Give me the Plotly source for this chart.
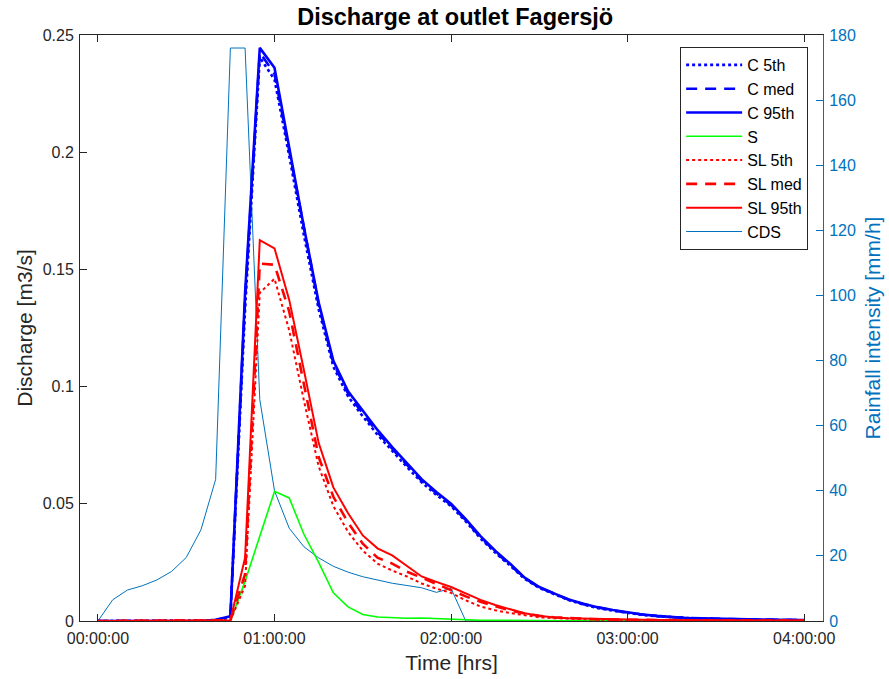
import pandas as pd
import plotly.graph_objects as go

# time steps in minutes (5-minute resolution)
minutes = list(range(0, 245, 5))

rain_cds = [0, 6.5, 9.5, 10.8, 12.6, 15.2, 19.5, 28.0, 43.5, 176.0, 176.0, 68.0, 40.0,
            28.5, 22.8, 19.4, 16.8, 15.0, 13.6, 12.5, 11.6, 10.9, 10.2, 8.8, 10.0, 0,
            0, 0, 0, 0, 0, 0, 0, 0, 0, 0, 0, 0, 0, 0, 0, 0, 0, 0, 0, 0, 0, 0, 0]

c_5th = [0, 0, 0, 0, 0, 0, 0, 0, 0.0003, 0.0015, 0.133, 0.2405, 0.231, 0.1985, 0.1645,
         0.1330, 0.1085, 0.0958, 0.0873, 0.0795, 0.0725, 0.0657, 0.0592, 0.0538, 0.0490,
         0.0425, 0.0352, 0.0292, 0.0237, 0.0180, 0.0141, 0.0114, 0.0089, 0.0070, 0.0055,
         0.0044, 0.0034, 0.0026, 0.0020, 0.0016, 0.0012, 0.0010, 0.0008, 0.0007, 0.0006,
         0.0005, 0.0005, 0.0004, 0.0003]
c_med = [0, 0, 0, 0, 0, 0, 0, 0, 0.0004, 0.0018, 0.137, 0.2425, 0.2335, 0.2005, 0.1665,
         0.1350, 0.1100, 0.0970, 0.0885, 0.0805, 0.0735, 0.0665, 0.0598, 0.0545, 0.0495,
         0.0430, 0.0357, 0.0296, 0.0241, 0.0183, 0.0143, 0.0116, 0.0091, 0.0072, 0.0057,
         0.0045, 0.0035, 0.0027, 0.0021, 0.0016, 0.0013, 0.0010, 0.0009, 0.0008, 0.0007,
         0.0006, 0.0005, 0.0004, 0.0004]
c_95th = [0, 0, 0, 0, 0, 0, 0, 0, 0.0005, 0.0020, 0.140, 0.2445, 0.236, 0.202, 0.168,
          0.136, 0.111, 0.098, 0.0895, 0.0815, 0.0742, 0.0672, 0.0605, 0.0550, 0.0500,
          0.0435, 0.0362, 0.0300, 0.0245, 0.0185, 0.0145, 0.0118, 0.0092, 0.0074, 0.0058,
          0.0047, 0.0036, 0.0028, 0.0022, 0.0017, 0.0013, 0.0011, 0.0009, 0.0008, 0.0007,
          0.0006, 0.0005, 0.0005, 0.0004]
s_vals = [0, 0, 0, 0, 0, 0, 0, 0, 0, 0, 0.017, 0.036, 0.0553, 0.0525, 0.037, 0.025,
          0.012, 0.006, 0.0028, 0.0017, 0.0013, 0.0012, 0.0013, 0.0010, 0.0007, 0.0005,
          0.0003, 0.0003, 0.0002, 0.0002, 0.0002, 0.0001, 0.0001, 0.0001, 0.0001, 0.0001,
          0.0001, 0.0001, 0.0001, 0.0001, 0.0001, 0.0001, 0.0001, 0.0001, 0.0001, 0.0001,
          0.0001, 0.0001, 0.0001]
sl_5th = [0, 0, 0, 0, 0, 0, 0, 0, 0, 0.0002, 0.015, 0.140, 0.146, 0.124, 0.094, 0.066,
          0.049, 0.038, 0.030, 0.0245, 0.0215, 0.0190, 0.0160, 0.0138, 0.0120, 0.0088,
          0.0062, 0.0046, 0.0034, 0.0024, 0.0016, 0.0012, 0.0009, 0.0007, 0.0006, 0.0005,
          0.0004, 0.0004, 0.0003, 0.0003, 0.0003, 0.0002, 0.0002, 0.0002, 0.0002, 0.0002,
          0.0002, 0.0002, 0.0002]
sl_med = [0, 0, 0, 0, 0, 0, 0, 0, 0, 0.0003, 0.020, 0.1525, 0.152, 0.132, 0.101, 0.070,
          0.053, 0.042, 0.033, 0.0270, 0.0245, 0.0210, 0.0185, 0.0158, 0.0132, 0.0105,
          0.0082, 0.0062, 0.0045, 0.0032, 0.0022, 0.0016, 0.0012, 0.0009, 0.0007, 0.0006,
          0.0005, 0.0004, 0.0004, 0.0003, 0.0003, 0.0003, 0.0002, 0.0002, 0.0002, 0.0002,
          0.0002, 0.0002, 0.0002]
sl_95th = [0, 0, 0, 0, 0, 0, 0, 0, 0, 0.0003, 0.027, 0.1625, 0.159, 0.137, 0.107, 0.076,
           0.057, 0.046, 0.0365, 0.0310, 0.0280, 0.0235, 0.0190, 0.0167, 0.0145, 0.0118,
           0.0090, 0.0068, 0.0050, 0.0033, 0.0022, 0.0015, 0.0012, 0.0010, 0.0008, 0.0007,
           0.0006, 0.0005, 0.0004, 0.0004, 0.0003, 0.0003, 0.0003, 0.0003, 0.0002, 0.0002,
           0.0002, 0.0002, 0.0002]

base = pd.Timestamp("2000-01-01 00:00:00")
t = [base + pd.Timedelta(minutes=m) for m in minutes]
x_start = base - pd.Timedelta(minutes=6.1)
x_end = base + pd.Timedelta(minutes=246.4)

BLUE = "#0000FF"
RED = "#FF0000"
GREEN = "#00FF00"
CDS_COL = "#0072BD"
AX = "#262626"

fig = go.Figure()
# rainfall on primary y (drawn underneath), shown on right side
fig.add_trace(go.Scatter(x=t, y=rain_cds, name="CDS", mode="lines", yaxis="y",
                         line=dict(color=CDS_COL, width=1), legendrank=8,
                         legendgroup="g8"))

series = [
    ("C 5th", c_5th, BLUE, 2.6, "dot", 1),
    ("C med", c_med, BLUE, 2.6, "11px,8px", 2),
    ("C 95th", c_95th, BLUE, 2.6, "solid", 3),
    ("S", s_vals, GREEN, 1.6, "solid", 4),
    ("SL 5th", sl_5th, RED, 2.0, "dot", 5),
    ("SL med", sl_med, RED, 2.6, "11px,8px", 6),
    ("SL 95th", sl_95th, RED, 2.0, "solid", 7),
]
for name, vals, col, w, dash, rank in series:
    fig.add_trace(go.Scatter(x=t, y=vals, name=name, mode="lines", yaxis="y2",
                             line=dict(color=col, width=w, dash=dash),
                             legendrank=rank, legendgroup="g%d" % rank))

fig.update_layout(
    width=889, height=679,
    margin=dict(l=80, r=66, t=35, b=58),
    paper_bgcolor="white", plot_bgcolor="white",
    font=dict(family="Liberation Sans, Arial, sans-serif", size=16, color=AX),
    title=dict(text="<b>Discharge at outlet Fagersjö</b>", x=0.505, xanchor="center",
               xref="paper", y=1 - 17 / 679, yanchor="middle", yref="container",
               font=dict(size=23.5, color="black")),
    xaxis=dict(type="date", range=[x_start, x_end], tickformat="%H:%M:%S",
               dtick=3600000, tick0=base, showgrid=False, zeroline=False,
               showline=True, linecolor=AX, linewidth=1, mirror="ticks",
               ticks="inside", ticklen=7, tickcolor=AX, ticklabelstandoff=3,
               automargin=False,
               title=dict(text="Time [hrs]", font=dict(size=21, color=AX), standoff=9)),
    yaxis=dict(range=[0, 180], dtick=20, side="right", showgrid=False, zeroline=False,
               showline=True, linecolor=CDS_COL, linewidth=1, ticks="inside",
               ticklen=7, tickcolor=CDS_COL, tickfont=dict(color=CDS_COL, size=16),
               ticklabelstandoff=2, automargin=False,
               title=dict(text="Rainfall intensity [mm/h]",
                          font=dict(size=21, color=CDS_COL), standoff=10)),
    yaxis2=dict(range=[0, 0.25], dtick=0.05, side="left", overlaying="y",
                showgrid=False, zeroline=False, showline=True, linecolor=AX,
                linewidth=1, ticks="inside", ticklen=7, tickcolor=AX,
                ticklabelstandoff=2, automargin=False,
                title=dict(text="Discharge [m3/s]", font=dict(size=21, color=AX),
                           standoff=4)),
    legend=dict(x=0.98, xanchor="right", y=0.9795, yanchor="top",
                bgcolor="white", bordercolor=AX, borderwidth=1, itemwidth=56,
                font=dict(size=16, color="black"), tracegroupgap=0,
                traceorder="normal"),
    showlegend=True,
)

fig.write_html("out.html")
